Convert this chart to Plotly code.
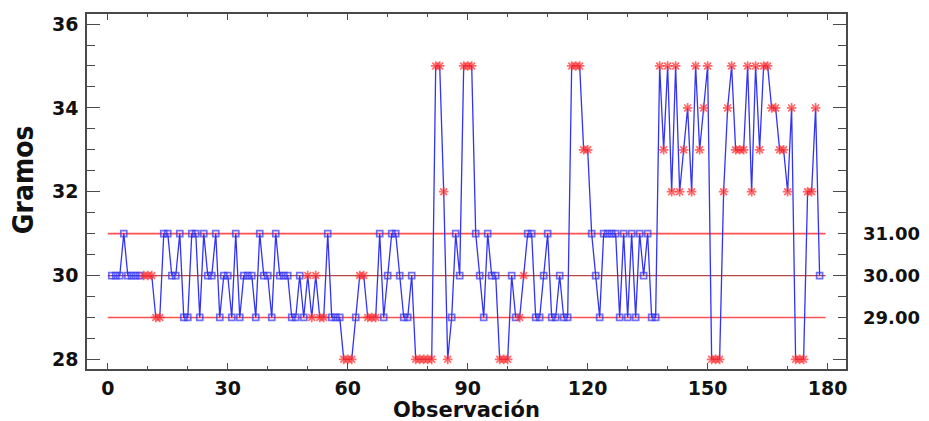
import plotly.graph_objects as go

# Observed weights (gramos), observations 1..178
values = [
    30, 30, 30, 31, 30, 30, 30, 30, 30, 30,
    30, 29, 29, 31, 31, 30, 30, 31, 29, 29,
    31, 31, 29, 31, 30, 30, 31, 29, 30, 30,
    29, 31, 29, 30, 30, 30, 29, 31, 30, 30,
    29, 31, 30, 30, 30, 29, 29, 30, 29, 30,
    29, 30, 29, 29, 31, 29, 29, 29, 28, 28,
    28, 29, 30, 30, 29, 29, 29, 31, 29, 30,
    31, 31, 30, 29, 29, 30, 28, 28, 28, 28,
    28, 35, 35, 32, 28, 29, 31, 30, 35, 35,
    35, 31, 30, 29, 31, 30, 30, 28, 28, 28,
    30, 29, 29, 30, 31, 31, 29, 29, 30, 31,
    29, 29, 30, 29, 29, 35, 35, 35, 33, 33,
    31, 30, 29, 31, 31, 31, 31, 29, 31, 29,
    31, 29, 31, 30, 31, 29, 29, 35, 33, 35,
    32, 35, 32, 33, 34, 32, 35, 33, 34, 35,
    28, 28, 28, 32, 34, 35, 33, 33, 33, 35,
    32, 35, 33, 35, 35, 34, 34, 33, 33, 32,
    34, 28, 28, 28, 32, 32, 34, 30,
]
observations = list(range(1, len(values) + 1))

# Observations flagged (red asterisks)
flagged = (
    [9, 10, 11, 12, 13]
    + [50, 51, 52, 53, 54]
    + [59, 60, 61]
    + [63, 64, 65, 66, 67]
    + list(range(77, 86))
    + [89, 90, 91]
    + [98, 99, 100]
    + [103, 104]
    + list(range(116, 121))
    + list(range(138, 178))
)

# Control limits
ucl, center, lcl = 31.0, 30.0, 29.0
limit_x = [0, 179.5]
limit_labels = ["31.00", "30.00", "29.00"]

x_ticks = [0, 30, 60, 90, 120, 150, 180]
y_ticks = [28, 30, 32, 34, 36]

BLUE = "#3333F5"
RED = "#FF2A2A"
LIM = "#FF5050"
CEN = "#B84848"
AXC = "#4A4A4A"

flag_set = set(flagged)
symbols = ["asterisk-open" if o in flag_set else "square-open" for o in observations]
colors = [RED if o in flag_set else BLUE for o in observations]
sizes = [8 if o in flag_set else 6 for o in observations]

fig = go.Figure()
for lvl, col, w in [(ucl, LIM, 1.6), (center, CEN, 1.3), (lcl, LIM, 1.6)]:
    fig.add_trace(go.Scatter(x=limit_x, y=[lvl, lvl], mode="lines",
                             line=dict(color=col, width=w), hoverinfo="skip",
                             showlegend=False))

fig.add_trace(go.Scatter(
    x=observations, y=values, mode="lines+markers",
    line=dict(color=BLUE, width=1.3),
    marker=dict(symbol=symbols, color=colors, size=sizes,
                line=dict(color=colors, width=1.7)),
    showlegend=False,
))

tickfont = dict(family="DejaVu Sans", size=19, color="#111111", weight="bold")

fig.update_layout(
    width=929, height=421,
    margin=dict(l=87, r=83, t=14, b=52, autoexpand=False),
    paper_bgcolor="white", plot_bgcolor="white",
    xaxis=dict(
        range=[-5.2, 184.6], tickvals=x_ticks, ticks="inside", ticklen=6,
        tickwidth=1.3, tickcolor=AXC,
        minor=dict(dtick=10, tick0=0, ticks="inside", ticklen=3, tickcolor=AXC, tickwidth=1.2),
        showline=True, linecolor=AXC, linewidth=1.6, mirror="ticks",
        showgrid=False, zeroline=False, tickfont=tickfont, automargin=False,
        ticklabelstandoff=1,
    ),
    yaxis=dict(
        range=[27.77, 36.24], tickvals=y_ticks, ticks="inside", ticklen=13,
        tickwidth=1.3, tickcolor=AXC,
        minor=dict(dtick=0.5, tick0=28, ticks="inside", ticklen=8, tickcolor=AXC, tickwidth=1.2),
        showline=True, linecolor=AXC, linewidth=1.6, mirror="ticks",
        showgrid=False, zeroline=False, tickfont=tickfont, automargin=False,
        ticklabelstandoff=3,
    ),
)

for lvl, txt in zip([ucl, center, lcl], limit_labels):
    fig.add_annotation(x=1, xref="paper", y=lvl, yref="y", text=txt,
                       showarrow=False, xanchor="left", xshift=15,
                       font=dict(family="DejaVu Sans", size=18, color="#111111", weight="bold"))

fig.add_annotation(x=0, xref="paper", y=0.532, yref="paper", text="Gramos",
                   showarrow=False, textangle=-90, xanchor="center", yanchor="middle",
                   xshift=-64,
                   font=dict(family="DejaVu Sans Condensed, DejaVu Sans", size=28,
                             color="#111111", weight="bold"))
fig.add_annotation(x=0.5, xref="paper", y=0, yref="paper", text="Observación",
                   showarrow=False, xanchor="center", yanchor="middle", yshift=-41,
                   font=dict(family="DejaVu Sans", size=21, color="#111111", weight="bold"))

fig.write_html("out.html", config={"displayModeBar": False},
               post_script="document.body.style.margin='0';document.body.style.overflow='hidden';")
